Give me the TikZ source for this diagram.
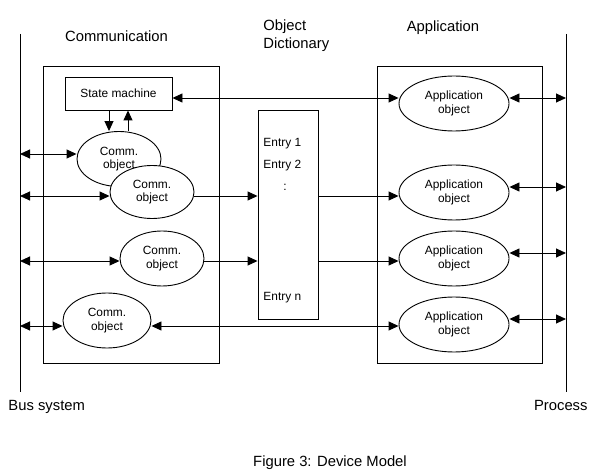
\documentclass[tikz,border=0pt]{standalone}
\usepackage{fontspec}
\setmainfont{Liberation Sans}
\usetikzlibrary{shapes.geometric,arrows.meta}
\begin{document}
\begin{tikzpicture}[x=1pt,y=-1pt,line width=0.9pt,>={Triangle[length=10pt,width=9pt]},
        obj node/.style={ellipse,draw,fill=white,inner sep=0pt,align=center,font=\fontsize{11.9}{13.5}\selectfont},
        box node/.style={rectangle,draw,inner sep=0pt},
        title node/.style={inner sep=0pt,font=\fontsize{14.8}{18}\selectfont},
        entry node/.style={anchor=west,inner sep=0pt,font=\fontsize{11.9}{13.5}\selectfont}]
        \useasboundingbox (0,0) rectangle (598,476);

        % bus system and process lines
        \coordinate (bt) at (20,34);
        \coordinate (bb) at (20,392);
        \coordinate (pt) at (566,34);
        \coordinate (pb) at (566,392);
        \draw (bt) -- (bb);
        \draw (pt) -- (pb);
        \coordinate (b1) at (20,154);
        \coordinate (b2) at (20,196);
        \coordinate (b3) at (20,261);
        \coordinate (b4) at (20,326);
        \coordinate (p1) at (566,98);
        \coordinate (p2) at (566,187);
        \coordinate (p3) at (566,253);
        \coordinate (p4) at (566,319);

        % boxes
        \node[box node,minimum width=176pt,minimum height=297pt] at (131,214.5) (cb) {};
        \node[box node,minimum width=165pt,minimum height=297pt] at (459.5,214.5) (ab) {};
        \node[box node,minimum width=60pt,minimum height=209pt] at (288,214.5) (ed) {};
        \node[box node,minimum width=107pt,minimum height=33pt,font=\fontsize{11.9}{13.5}\selectfont] at (118.5,93.5) (sm) {State machine};

        % objects
        \node[obj node,minimum width=84pt,minimum height=55pt] at (119,159) (c1) {Comm.\\object};
        \node[obj node,minimum width=84pt,minimum height=53pt] at (152,192) (c2) {Comm.\\object};
        \node[obj node,minimum width=84pt,minimum height=55pt] at (162,258.5) (c3) {Comm.\\object};
        \node[obj node,minimum width=88pt,minimum height=55pt] at (107,320.5) (c4) {Comm.\\object};
        \node[obj node,minimum width=110pt,minimum height=55pt] at (454,103.5) (a1) {Application\\object};
        \node[obj node,minimum width=110pt,minimum height=55pt] at (454,192.5) (a2) {Application\\object};
        \node[obj node,minimum width=110pt,minimum height=55pt] at (454,258.5) (a3) {Application\\object};
        \node[obj node,minimum width=110pt,minimum height=55pt] at (454,324.5) (a4) {Application\\object};

        % dictionary entries
        \node[entry node] at (263,144) (e1) {Entry 1};
        \node[entry node] at (263,166) (e2) {Entry 2};
        \node[entry node,anchor=center] at (285,187) (ed2) {:};
        \node[entry node] at (263,298) (en) {Entry n};

        % titles
        \node[title node] at (116.5,36) (tc) {Communication};
        \node[title node,align=left,anchor=west] at (263,36) (tod) {Object\\Dictionary};
        \node[title node] at (443,28) (ta) {Application};
        \node[title node,anchor=west] at (8,407) (tb) {Bus system};
        \node[title node,anchor=east] at (588,405) (tp) {Process};
        \node[title node] at (330,463) (fig) {Figure 3: Device Model};

        % connections
        \coordinate (smd) at ([xshift=-9.5pt]sm.south);
        \coordinate (smu) at ([xshift=9.5pt]sm.south);
        \draw[->] (smd) -- (smd |- c1.north);
        \draw[->] (smu |- c1.north) -- (smu);
        \draw[<->] (p1 -| sm.east) -- (p1 -| a1.west);
        \draw[<->] (b1) -- (b1 -| c1.west);
        \draw[<->] (b2) -- (b2 -| c2.west);
        \draw[<->] (b3) -- (b3 -| c3.west);
        \draw[<->] (b4) -- (b4 -| c4.west);
        \draw[->] (b2 -| c2.east) -- (b2 -| ed.west);
        \draw[->] (b3 -| c3.east) -- (b3 -| ed.west);
        \draw[->] (b2 -| ed.east) -- (b2 -| a2.west);
        \draw[->] (b3 -| ed.east) -- (b3 -| a3.west);
        \draw[<->] (b4 -| c4.east) -- (b4 -| a4.west);
        \draw[<->] (p1 -| a1.east) -- (p1);
        \draw[<->] (p2 -| a2.east) -- (p2);
        \draw[<->] (p3 -| a3.east) -- (p3);
        \draw[<->] (p4 -| a4.east) -- (p4);
\end{tikzpicture}
\end{document}
